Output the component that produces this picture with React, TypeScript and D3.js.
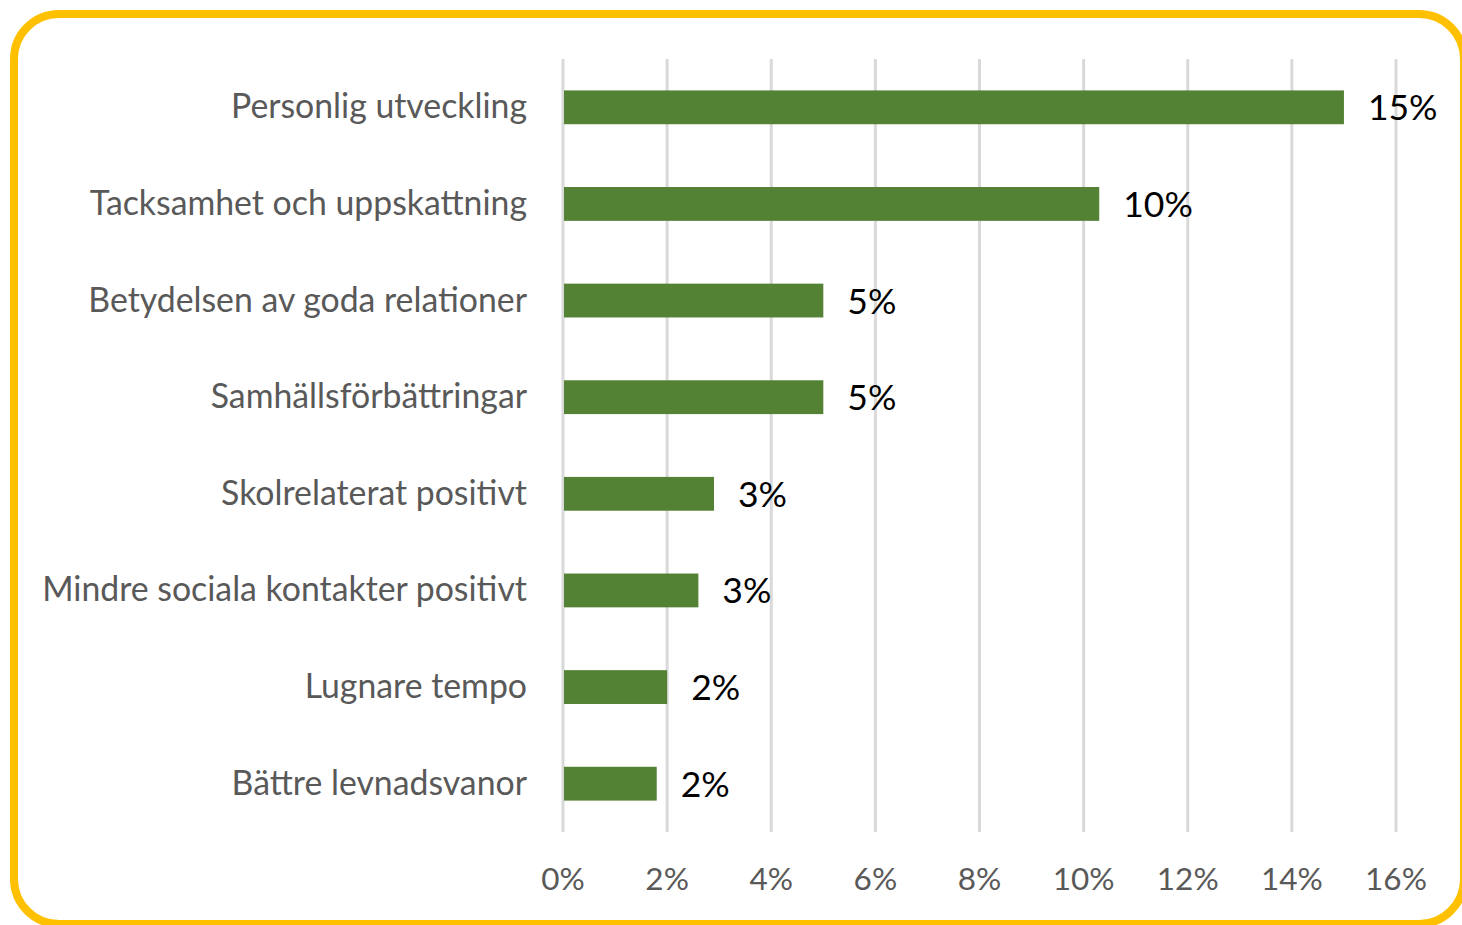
import React, { useEffect, useRef } from "react";
import * as d3 from "d3";

const categories = [
  "Personlig utveckling",
  "Tacksamhet och uppskattning",
  "Betydelsen av goda relationer",
  "Samhällsförbättringar",
  "Skolrelaterat positivt",
  "Mindre sociala kontakter positivt",
  "Lugnare tempo",
  "Bättre levnadsvanor",
];
const values = [15.0, 10.3, 5.0, 5.0, 2.9, 2.6, 2.0, 1.8];
const valueLabels = ["15%", "10%", "5%", "5%", "3%", "3%", "2%", "2%"];
const ticks = [0, 2, 4, 6, 8, 10, 12, 14, 16];

const FONT = "Lato, 'Open Sans', sans-serif";

export default function App() {
  const svgRef = useRef<SVGSVGElement | null>(null);

  useEffect(() => {
    if (!svgRef.current) return;
    const width = 1462;
    const height = 925;
    const svg = d3.select(svgRef.current);
    svg.selectAll("*").remove();

    // ram
    svg
      .append("rect")
      .attr("x", 14)
      .attr("y", 14)
      .attr("width", 1450)
      .attr("height", 910)
      .attr("rx", 45)
      .attr("ry", 45)
      .attr("fill", "#fff")
      .attr("stroke", "#ffc000")
      .attr("stroke-width", 8);

    const x = d3.scaleLinear().domain([0, 16]).range([563, 1396]);
    const y = d3
      .scaleBand<string>()
      .domain(categories)
      .range([59, 832])
      .paddingInner(0.65)
      .paddingOuter(0.325);

    // rutnät
    svg
      .append("g")
      .selectAll("line")
      .data(ticks)
      .enter()
      .append("line")
      .attr("x1", (d) => x(d))
      .attr("x2", (d) => x(d))
      .attr("y1", 59)
      .attr("y2", 832)
      .attr("stroke", "#d9d9d9")
      .attr("stroke-width", 3);

    // x-etiketter
    svg
      .append("g")
      .selectAll("text")
      .data(ticks)
      .enter()
      .append("text")
      .attr("x", (d) => x(d))
      .attr("y", 890)
      .attr("text-anchor", "middle")
      .attr("fill", "#595959")
      .style("font-family", FONT)
      .style("font-size", "31.5px")
      .text((d) => `${d}%`);

    // staplar
    svg
      .append("g")
      .selectAll("rect")
      .data(values)
      .enter()
      .append("rect")
      .attr("x", x(0) + 1)
      .attr("y", (_, i) => y(categories[i])!)
      .attr("width", (d) => x(d) - x(0) - 1)
      .attr("height", y.bandwidth())
      .attr("fill", "#548235");

    // värdeetiketter
    svg
      .append("g")
      .selectAll("text")
      .data(values)
      .enter()
      .append("text")
      .attr("x", (d) => x(d) + 24)
      .attr("y", (_, i) => y(categories[i])! + y.bandwidth() / 2 + 13)
      .attr("fill", "#000")
      .style("font-family", FONT)
      .style("font-size", "35.5px")
      .text((_, i) => valueLabels[i]);

    // kategorier
    svg
      .append("g")
      .selectAll("text")
      .data(categories)
      .enter()
      .append("text")
      .attr("x", 527)
      .attr("y", (d) => y(d)! + y.bandwidth() / 2 + 11)
      .attr("text-anchor", "end")
      .attr("fill", "#595959")
      .style("font-family", FONT)
      .style("font-size", "33.8px")
      .text((d) => d);

    svg.attr("width", width).attr("height", height);
  }, []);

  return (
    <div style={{ position: "absolute", left: 0, top: 0 }}>
      <svg ref={svgRef} style={{ display: "block" }}></svg>
    </div>
  );
}
